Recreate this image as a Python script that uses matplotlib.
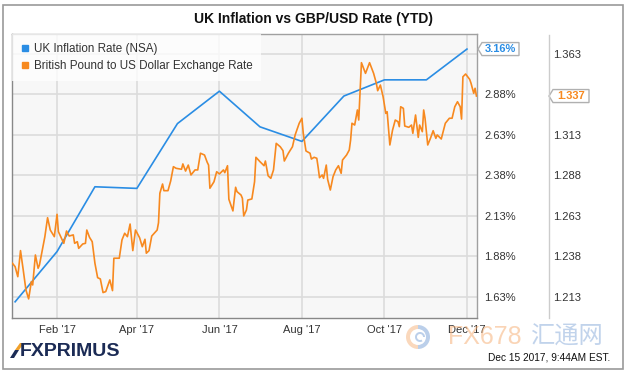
import numpy as np
import pandas as pd
import matplotlib
matplotlib.use("Agg")
import matplotlib.pyplot as plt
from matplotlib.lines import Line2D
from matplotlib.patches import Polygon, Rectangle, Wedge

plt.rcParams['font.family'] = ['Liberation Sans', 'Noto Sans CJK SC', 'DejaVu Sans']

# UK inflation (monthly, %)
infl_dates = ['2017-01-01', '2017-02-01', '2017-03-01', '2017-04-01', '2017-05-01', '2017-06-01',
              '2017-07-01', '2017-08-01', '2017-09-01', '2017-10-01', '2017-11-01', '2017-12-01']
infl_vals = [1.60, 1.91, 2.31, 2.30, 2.70, 2.90, 2.68, 2.59, 2.87, 2.97, 2.97, 3.16]

# GBP/USD
fx_dates = ['2016-12-30', '2017-01-01', '2017-01-03', '2017-01-05', '2017-01-07', '2017-01-09',
            '2017-01-11', '2017-01-13', '2017-01-14', '2017-01-16', '2017-01-18', '2017-01-19',
            '2017-01-23', '2017-01-25', '2017-01-27', '2017-01-30', '2017-02-01', '2017-02-02',
            '2017-02-06', '2017-02-08', '2017-02-10', '2017-02-13', '2017-02-14', '2017-02-16',
            '2017-02-17', '2017-02-20', '2017-02-22', '2017-02-23', '2017-02-25', '2017-02-27',
            '2017-03-01', '2017-03-03', '2017-03-05', '2017-03-07', '2017-03-09', '2017-03-12',
            '2017-03-14', '2017-03-15', '2017-03-19', '2017-03-21', '2017-03-23', '2017-03-25',
            '2017-03-27', '2017-03-29', '2017-03-31', '2017-04-03', '2017-04-05', '2017-04-07',
            '2017-04-08', '2017-04-10', '2017-04-12', '2017-04-16', '2017-04-17', '2017-04-18',
            '2017-04-20', '2017-04-21', '2017-04-24', '2017-04-26', '2017-04-28', '2017-04-30',
            '2017-05-04', '2017-05-05', '2017-05-07', '2017-05-09', '2017-05-11', '2017-05-14',
            '2017-05-16', '2017-05-18', '2017-05-21', '2017-05-23', '2017-05-24', '2017-05-25',
            '2017-05-28', '2017-05-30', '2017-06-01', '2017-06-04', '2017-06-05', '2017-06-07',
            '2017-06-08', '2017-06-11', '2017-06-13', '2017-06-14', '2017-06-17', '2017-06-18',
            '2017-06-19', '2017-06-21', '2017-06-22', '2017-06-25', '2017-06-27', '2017-06-28',
            '2017-07-01', '2017-07-04', '2017-07-05', '2017-07-07', '2017-07-09', '2017-07-11',
            '2017-07-13', '2017-07-16', '2017-07-18', '2017-07-19', '2017-07-22', '2017-07-25',
            '2017-07-27', '2017-07-30', '2017-08-01', '2017-08-02', '2017-08-04', '2017-08-07',
            '2017-08-08', '2017-08-10', '2017-08-12', '2017-08-13', '2017-08-14', '2017-08-16',
            '2017-08-17', '2017-08-19', '2017-08-20', '2017-08-22', '2017-08-24', '2017-08-26',
            '2017-08-28', '2017-08-30', '2017-08-31', '2017-09-03', '2017-09-05', '2017-09-06',
            '2017-09-07', '2017-09-09', '2017-09-11', '2017-09-12', '2017-09-14', '2017-09-17',
            '2017-09-20', '2017-09-23', '2017-09-25', '2017-09-26', '2017-09-28', '2017-09-30',
            '2017-10-02', '2017-10-03', '2017-10-05', '2017-10-07', '2017-10-09', '2017-10-11',
            '2017-10-12', '2017-10-13', '2017-10-15', '2017-10-16', '2017-10-19', '2017-10-21',
            '2017-10-22', '2017-10-24', '2017-10-26', '2017-10-27', '2017-10-29', '2017-10-30',
            '2017-10-31', '2017-11-02', '2017-11-04', '2017-11-06', '2017-11-08', '2017-11-09',
            '2017-11-12', '2017-11-15', '2017-11-18', '2017-11-20', '2017-11-22', '2017-11-24',
            '2017-11-26', '2017-11-27', '2017-11-28', '2017-11-30', '2017-12-03', '2017-12-04',
            '2017-12-06', '2017-12-07', '2017-12-08']
fx_vals = [1.2338, 1.2317, 1.2255, 1.2416, 1.2297, 1.2173,
           1.2118, 1.2224, 1.2204, 1.2389, 1.2307, 1.2327,
           1.2502, 1.2619, 1.2543, 1.2502, 1.2640, 1.2533,
           1.2461, 1.2537, 1.2506, 1.2513, 1.2461, 1.2471,
           1.2430, 1.2457, 1.2461, 1.2543, 1.2498, 1.2471,
           1.2338, 1.2249, 1.2241, 1.2157, 1.2163, 1.2235,
           1.2169, 1.2369, 1.2369, 1.2482, 1.2523, 1.2502,
           1.2580, 1.2416, 1.2543, 1.2496, 1.2440, 1.2486,
           1.2400, 1.2416, 1.2506, 1.2543, 1.2588, 1.2770,
           1.2827, 1.2786, 1.2786, 1.2846, 1.2934, 1.2924,
           1.2918, 1.2951, 1.2907, 1.2944, 1.2883, 1.2914,
           1.2914, 1.3017, 1.3006, 1.2961, 1.2944, 1.2801,
           1.2841, 1.2903, 1.2889, 1.2914, 1.2897, 1.2940,
           1.2733, 1.2661, 1.2807, 1.2780, 1.2759, 1.2739,
           1.2630, 1.2667, 1.2728, 1.2735, 1.2841, 1.2992,
           1.2965, 1.2940, 1.2969, 1.2878, 1.2862, 1.2914,
           1.3078, 1.3057, 1.3033, 1.2969, 1.3017, 1.3057,
           1.3130, 1.3202, 1.3233, 1.3140, 1.3031, 1.3017,
           1.2981, 1.2992, 1.2986, 1.2930, 1.2866, 1.2883,
           1.2862, 1.2944, 1.2856, 1.2790, 1.2872, 1.2914,
           1.2940, 1.2893, 1.2975, 1.3006, 1.3037, 1.3099,
           1.3202, 1.3191, 1.3284, 1.3222, 1.3576, 1.3510,
           1.3576, 1.3510, 1.3449, 1.3403, 1.3438, 1.3366,
           1.3263, 1.3273, 1.3068, 1.3160, 1.3222, 1.3212,
           1.3181, 1.3304, 1.3294, 1.3185, 1.3177, 1.3191,
           1.3140, 1.3253, 1.3115, 1.3191, 1.3150, 1.3284,
           1.3233, 1.3068, 1.3109, 1.3156, 1.3109, 1.3130,
           1.3105, 1.3202, 1.3233, 1.3233, 1.3304, 1.3335,
           1.3304, 1.3228, 1.3489, 1.3506, 1.3473, 1.3449,
           1.3387, 1.3418, 1.3370]

pct_ticks = [1.63, 1.88, 2.13, 2.38, 2.63, 2.88, 3.13]
pct_labels = ['1.63%', '1.88%', '2.13%', '2.38%', '2.63%', '2.88%', '']
fx_ticks = [1.213, 1.238, 1.263, 1.288, 1.313, 1.338, 1.363]
fx_labels = ['1.213', '1.238', '1.263', '1.288', '1.313', '', '1.363']
month_ticks = ['2017-02-01', '2017-04-01', '2017-06-01', '2017-08-01', '2017-10-01', '2017-12-01']
month_labels = ["Feb '17", "Apr '17", "Jun '17", "Aug '17", "Oct '17", "Dec '17"]

blue = '#2a8de4'
orange = '#f7891f'
W, H = 628, 372

fig = plt.figure(figsize=(W / 100, H / 100), dpi=100)
fig.patch.set_facecolor('white')
# outer frame
fig.add_artist(Rectangle((3 / W, 3 / H), 620 / W, 364 / H, transform=fig.transFigure,
                         fill=False, ec='#9a9a9a', lw=1.2))

ax = fig.add_axes([12 / W, 54 / H, 465 / W, 284 / H])
ax.set_facecolor('#f7f7f7')
ax2 = ax.twinx()

ax.plot(pd.to_datetime(infl_dates), infl_vals, color=blue, lw=1.2, zorder=3)
ax2.plot(pd.to_datetime(fx_dates), fx_vals, color=orange, lw=1.2, zorder=3)

ax.set_xlim(pd.Timestamp('2016-12-29 17:00'), pd.Timestamp('2017-12-08 10:00'))
ax.set_ylim(1.500, 3.253)
ax2.set_ylim(1.2000, 1.3753)

ax.set_xticks(pd.to_datetime(month_ticks))
ax.set_xticklabels(month_labels)
ax.set_yticks(pct_ticks)
ax.set_yticklabels(pct_labels)
ax.yaxis.tick_right()
ax.tick_params(axis='y', length=0, pad=5, labelsize=8, labelcolor='#333333')
ax.tick_params(axis='x', length=0, pad=5, labelsize=8, labelcolor='#333333')
ax.grid(True, color='#dcdcdc', lw=1.2)
ax.set_axisbelow(True)

ax2.set_yticks(fx_ticks)
ax2.set_yticklabels(fx_labels)
ax2.tick_params(axis='y', length=0, pad=55, labelsize=8, labelcolor='#333333')
for s in ax2.spines.values():
    s.set_visible(False)
for s in ax.spines.values():
    s.set_color('#a0a0a0')
    s.set_linewidth(1)
ax.spines['left'].set_color('#888888')
ax.spines['bottom'].set_color('#888888')

# separator between the two scales
fig.add_artist(Line2D([549 / W, 549 / W], [54 / H, 337 / H], color='#cccccc', lw=1))

# legend
handles = [Line2D([], [], marker='s', ls='', color=blue, markersize=5),
           Line2D([], [], marker='s', ls='', color=orange, markersize=5)]
leg = ax.legend(handles, ['UK Inflation Rate (NSA)', 'British Pound to US Dollar Exchange Rate'],
                loc='upper left', bbox_to_anchor=(0, 1), borderaxespad=0, fontsize=8.4,
                frameon=True, fancybox=False, edgecolor='none', framealpha=0.75,
                handletextpad=0.3, handlelength=0.8, labelspacing=0.45, borderpad=0.75)
for t in leg.get_texts():
    t.set_color('#333333')
leg.set_zorder(5)


def tag(axis, value, x0, x1, text, color):
    # callout box with a left-pointing tip, in pixel coordinates
    y = axis.transData.transform((0, value))[1]
    h = 6.5
    pts = [(x0, y), (x0 + 4, y + h), (x1, y + h), (x1, y - h), (x0 + 4, y - h)]
    fig.add_artist(Polygon(pts, closed=True, transform=None, fc='white', ec='#b0b0b0', lw=1))
    fig.text((x0 + 4 + x1) / 2 / W, y / H, text, color=color, fontsize=8, fontweight='bold',
             ha='center', va='center')


tag(ax, infl_vals[-1], 478, 519, f'{infl_vals[-1]:.2f}%', blue)
tag(ax2, fx_vals[-1], 549, 589, f'{fx_vals[-1]:.3f}', orange)

fig.text(314 / W, 1 - 19 / H, 'UK Inflation vs GBP/USD Rate (YTD)', ha='center', va='center',
         fontsize=10, fontweight='bold', color='#111111')

# watermark
fig.add_artist(Wedge((418, 372 - 337), 12, 90, 270, width=4, transform=None,
                     fc='#f6b27a', ec='none', alpha=0.5))
fig.add_artist(Wedge((418, 372 - 337), 12, 270, 90, width=4, transform=None,
                     fc='#8fb0dc', ec='none', alpha=0.6))
fig.add_artist(Wedge((420, 372 - 337), 5, 0, 300, width=2, transform=None,
                     fc='#8fb0dc', ec='none', alpha=0.6))
fig.text(448 / W, 1 - 337 / H, 'FX678', fontsize=18, color='#f6b27a', alpha=0.55,
         ha='left', va='center')
fig.text(531 / W, 1 - 337 / H, '汇通网', fontsize=17.5, color='#8fb0dc', alpha=0.55,
         ha='left', va='center', family=['Noto Sans CJK SC', 'DejaVu Sans'])

# FXPRIMUS logo
fig.add_artist(Polygon([(15, 372 - 350), (19, 372 - 350), (24, 372 - 343), (20, 372 - 343)],
                       closed=True, transform=None, fc='#f0a02a', ec='none'))
fig.add_artist(Polygon([(10, 372 - 358), (14, 372 - 358), (19, 372 - 350), (15, 372 - 350)],
                       closed=True, transform=None, fc='#1b2b55', ec='none'))
fig.text(20 / W, 1 - 351 / H, 'FXPRIMUS', fontsize=14, fontweight='bold', color='#1b2b55',
         ha='left', va='center')
fig.text(610 / W, 1 - 358 / H, 'Dec 15 2017, 9:44AM EST.', fontsize=7.3, color='#111111',
         ha='right', va='center')

fig.savefig('out.png', dpi=100)
